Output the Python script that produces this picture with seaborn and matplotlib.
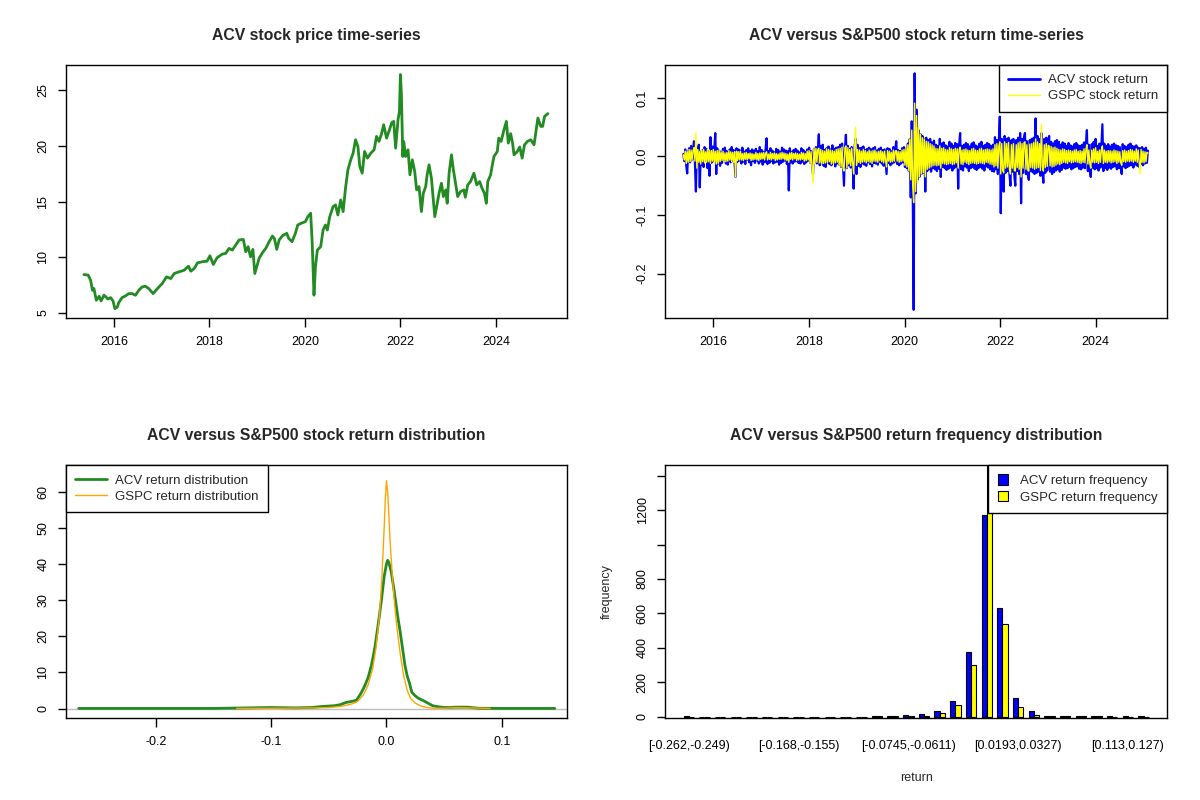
import numpy as np
import pandas as pd
import matplotlib
matplotlib.use("Agg")
import matplotlib.pyplot as plt
from matplotlib.lines import Line2D
import seaborn as sns

# ACV closing price (decimal year, price)
price_year = [2015.37, 2015.46, 2015.51, 2015.55, 2015.58, 2015.63, 2015.69, 2015.73, 2015.79, 2015.83,
              2015.87, 2015.93, 2015.98, 2016.02, 2016.07, 2016.10, 2016.17, 2016.24, 2016.31, 2016.38,
              2016.45, 2016.52, 2016.59, 2016.66, 2016.73, 2016.82, 2016.91, 2017.01, 2017.10, 2017.19,
              2017.26, 2017.36, 2017.47, 2017.56, 2017.61, 2017.68, 2017.75, 2017.85, 2017.95, 2018.01,
              2018.08, 2018.16, 2018.27, 2018.34, 2018.41, 2018.48, 2018.55, 2018.62, 2018.71, 2018.76,
              2018.81, 2018.86, 2018.91, 2018.95, 2018.99, 2019.04, 2019.11, 2019.18, 2019.25, 2019.32,
              2019.36, 2019.41, 2019.46, 2019.53, 2019.62, 2019.66, 2019.73, 2019.80, 2019.85, 2019.92,
              2020.01, 2020.06, 2020.12, 2020.15, 2020.19, 2020.22, 2020.26, 2020.33, 2020.38, 2020.43,
              2020.47, 2020.52, 2020.59, 2020.64, 2020.69, 2020.75, 2020.80, 2020.85, 2020.90, 2020.96,
              2021.01, 2021.06, 2021.11, 2021.15, 2021.20, 2021.25, 2021.31, 2021.38, 2021.45, 2021.50,
              2021.55, 2021.60, 2021.65, 2021.71, 2021.76, 2021.82, 2021.86, 2021.90, 2021.95, 2021.98,
              2022.00, 2022.02, 2022.05, 2022.07, 2022.11, 2022.16, 2022.20, 2022.25, 2022.30, 2022.34,
              2022.39, 2022.44, 2022.48, 2022.53, 2022.56, 2022.60, 2022.65, 2022.69, 2022.72, 2022.76,
              2022.81, 2022.86, 2022.90, 2022.95, 2022.98, 2023.02, 2023.07, 2023.11, 2023.16, 2023.20,
              2023.26, 2023.33, 2023.36, 2023.41, 2023.47, 2023.54, 2023.60, 2023.66, 2023.71, 2023.76,
              2023.80, 2023.83, 2023.89, 2023.92, 2023.96, 2024.03, 2024.06, 2024.11, 2024.17, 2024.22,
              2024.26, 2024.31, 2024.35, 2024.38, 2024.45, 2024.50, 2024.55, 2024.60, 2024.66, 2024.73,
              2024.80, 2024.83, 2024.88, 2024.94, 2024.98, 2025.02, 2025.09]
price_value = [8.45, 8.40, 7.94, 7.04, 7.20, 6.14, 6.50, 6.08, 6.60, 6.44,
               6.26, 6.38, 6.08, 5.39, 5.54, 5.93, 6.38, 6.53, 6.74, 6.74,
               6.59, 7.04, 7.34, 7.40, 7.19, 6.74, 7.19, 7.64, 8.24, 8.09,
               8.54, 8.69, 8.84, 9.20, 8.75, 8.99, 9.50, 9.60, 9.65, 10.14,
               9.35, 9.96, 10.29, 10.35, 10.80, 10.65, 11.10, 11.55, 11.60, 10.50,
               10.95, 10.05, 10.71, 8.54, 9.14, 9.90, 10.41, 10.80, 11.40, 11.91,
               11.70, 10.71, 11.55, 11.94, 12.15, 11.70, 11.40, 12.15, 12.90, 13.05,
               13.20, 13.65, 13.95, 11.55, 6.60, 9.14, 10.65, 10.95, 12.45, 12.90,
               12.45, 13.65, 14.55, 14.70, 13.80, 15.15, 14.10, 16.20, 17.85, 18.75,
               19.35, 20.55, 19.95, 18.15, 17.55, 19.50, 18.90, 19.35, 19.65, 20.85,
               20.40, 21.00, 21.90, 20.70, 21.30, 22.10, 22.20, 19.80, 22.35, 23.10,
               26.40, 24.76, 19.05, 20.40, 19.05, 19.65, 17.40, 18.75, 17.70, 16.05,
               16.35, 14.10, 15.75, 16.35, 17.40, 18.30, 17.10, 15.15, 13.65, 14.55,
               15.75, 16.65, 15.45, 16.05, 14.85, 17.55, 19.20, 17.85, 16.50, 15.45,
               15.90, 16.05, 15.39, 16.50, 16.80, 17.55, 16.50, 16.80, 16.20, 15.75,
               14.85, 16.80, 17.40, 18.15, 19.05, 19.50, 20.70, 20.40, 21.45, 22.20,
               20.25, 21.10, 20.25, 19.20, 19.50, 19.90, 18.90, 20.10, 20.40, 20.55,
               20.10, 21.00, 22.50, 21.75, 21.75, 22.65, 22.90]

# returns in per mille, sampled off the chart (evenly spaced, mid-2015 to early 2025)
ret_start, ret_end = 2015.37, 2025.09
acv_ret_pm = [
    4, -8, 12, -15, -29, 6, 14, -10, 18, -6, 9, 26, -12, -60, 15, -9, 20, -53, 8, -14,
    11, -18, 16, -7, 13, -20, 9, -33, 33, -11, 17, -8, 12, 40, -30, 14, -12, 10, -16, 8,
    -11, 13, -6, 15, -12, 9, -14, 7, 12, -10, 16, -8, 11, -13, -35, 14, -9, 12, -7, 10,
    -12, 15, -9, 8, -13, 11, -6, 14, -10, 9, -15, 12, -8, 10, -11, 13, -7, 9, -12, 16,
    -9, 11, -14, 8, -10, 12, 31, -13, 9, -11, 14, -8, 10, -12, 7, -10, 13, -9, 11, -14,
    8, -11, 15, -9, 12, -7, 10, -13, 9, -58, 14, -10, 8, -12, 11, -9, 13, -8, 10, -11,
    7, -12, 14, -9, 11, -13, 8, -10, 12, -7, 15, -11, 9, -14, -30, 13, -10, 16, -12, 11,
    38, -15, 18, -12, 20, -16, 11, -18, 14, -10, 17, -13, 12, -15, 19, -11, 13, -17, 15, -12,
    16, -14, 20, -18, 22, -16, -50, 14, 37, -20, 18, -15, 13, -19, 16, -12, -55, 17, 30, -30,
    20, -16, 14, -18, 15, -12, 17, -14, 11, -16, 13, -10, 15, -13, 12, -17, 14, -11, 16, -12,
    10, -14, 13, -9, 15, -12, 11, -16, 12, -10, -30, 14, -11, 13, -15, 9, -12, 16, -10, 12,
    26, -13, 11, -15, 9, -12, 14, -10, 16, -18, 13, -20, 22, -25, 30, -70, 60, -50, -262, 142,
    -63, 80, -40, 45, -35, 38, -30, 35, -28, 30, -60, 32, -25, 28, -22, 30, -26, 24, -20, 27,
    -22, 20, -25, 18, -21, 30, -35, 22, -18, 24, -20, 19, -23, 17, -21, 25, -19, 22, -24, 18,
    -20, 23, -17, 21, -55, 19, 40, -22, 18, -24, 20, -17, 23, -19, 21, -25, 17, -20, 22, -18,
    24, -21, 19, -23, 17, -20, 22, -18, 25, -21, 18, -24, 20, -17, 23, -19, 21, -22, 18, -25,
    20, -26, 33, -22, 28, -30, 25, 68, -97, 30, -35, -60, 35, -28, 30, -25, 32, -30, -50, 28,
    -26, 30, -32, -50, 28, -25, 32, -30, 40, -80, 30, -28, 33, 40, -30, 26, -32, -40, 28, -25,
    30, -27, 32, -30, 65, -28, 35, -26, 30, -33, 40, -25, -45, 30, -28, 32, -24, 28, 35, -26,
    25, -30, 22, -27, 26, -24, 28, -22, 25, -26, 20, -23, 24, -19, 22, -21, 18, -20, 23, -18,
    19, -22, 17, -20, 21, -18, 23, -17, 19, -21, 18, -22, 20, -19, 24, -20, 22, 45, -25, 20,
    -23, -35, 21, -19, 25, -22, 30, -20, 18, -24, 22, -19, 20, 55, -25, 22, -20, 18, -23, 21,
    -19, 17, -21, 20, -18, 22, -17, 19, -22, 18, -20, 16, -19, -30, 21, -17, 18, -20, 16, -18,
    20, -16, 22, -15, 18, -19, 17, -14, 19, -16, 15, -18, 14, -13, 16, -15, 13, -12, 15, -11,
    10]
gspc_ret_pm = [
    3, -6, 9, -12, 8, -10, 12, -9, 11, -7, 10, 15, -8, 40, -20, 12, -10, 9, -13, 11,
    -9, 12, -11, 8, -10, 13, -9, 11, -12, 10, -8, 12, -11, 9, -13, 10, -12, 11, -9, 8,
    -7, 9, -8, 6, -9, 7, -8, 10, -6, 8, -9, 7, -10, 8, -35, 9, -7, 8, -6, 9,
    -6, 5, -7, 6, -5, 7, -6, 5, -4, 6, -7, 5, -6, 4, -5, 7, -6, 5, -7, 6,
    -5, 6, -4, 7, -6, 5, 8, -6, 4, -5, 7, -6, 5, -4, 6, -7, 5, -6, 4, -5,
    6, -5, 7, -4, 6, -6, 5, -7, 4, -10, 6, -5, 7, -6, 5, -4, 6, -7, 5, -6,
    4, -6, 7, -5, 6, -8, 5, -7, 9, -6, 10, -12, 8, -20, -45, 15, -12, 14, -10, 12,
    14, -11, 12, -13, 10, -12, 9, -11, 13, -10, 12, -9, 11, -13, 10, -12, 9, -11, 12, -10,
    13, -15, 14, -18, 16, -20, -25, 15, 18, -20, 15, -13, 12, -16, 14, -12, -30, 15, 50, -15,
    12, -10, 11, -12, 9, -10, 12, -9, 10, -11, 8, -9, 11, -10, 9, -12, 10, -8, 11, -9,
    8, -10, 9, -7, 10, -9, 8, -11, 9, -7, -18, 10, -8, 9, -10, 7, -9, 11, -8, 9,
    10, -8, 9, -10, 8, -9, 11, -8, 12, -15, 14, -18, 20, -25, 30, -40, 45, -50, -79, 91,
    -60, 70, -45, 50, -35, 38, -30, 32, -28, 30, -35, 26, -22, 25, -20, 22, -18, 20, -16, 18,
    -15, 14, -16, 13, -15, 18, -20, 14, -12, 15, -13, 12, -14, 11, -13, 15, -12, 13, -14, 12,
    -13, 14, -11, 13, -20, 12, 16, -13, 11, -14, 12, -10, 13, -12, 11, -14, 10, -12, 13, -11,
    14, -12, 11, -13, 10, -12, 13, -11, 14, -12, 11, -13, 12, -10, 13, -11, 12, -13, 11, -14,
    13, -18, 20, -16, 22, -20, 18, 25, -30, 22, -24, -28, 25, -20, 22, -18, 24, -22, -30, 20,
    -20, 22, -24, -25, 20, -19, 23, -22, 25, -35, 22, -20, 24, 25, -22, 20, -24, -25, 21, -19,
    22, -20, 24, -22, 30, -20, 25, -19, 22, -24, 55, -18, -25, 20, -19, 22, -17, 19, 18, -16,
    17, -18, 15, -17, 16, -15, 14, -13, 12, -14, 11, -12, 13, -10, 12, -11, 10, -12, 11, -9,
    10, -11, 9, -10, 11, -9, 12, -10, 9, -11, 10, -12, 9, -10, 13, -11, 12, 20, -13, 11,
    -12, -20, 11, -10, 13, -11, 15, -10, 9, -12, 11, -10, 12, 18, -12, 11, -10, 9, -11, 10,
    -9, 10, -11, 9, -10, 11, -9, 10, -12, 9, -10, 8, -11, -15, 10, -9, 11, -10, 9, -8,
    10, -9, 12, -8, 11, -10, 9, -8, 13, -10, 11, -9, -30, 12, -10, 9, -11, 8, -9, 7,
    6]

# kernel density curves
acv_dens_x = [-0.267, -0.15, -0.10, -0.08, -0.065, -0.055, -0.045, -0.04, -0.035, -0.03,
              -0.026, -0.022, -0.019, -0.016, -0.013, -0.010, -0.008, -0.006, -0.004, -0.002,
              0.0, 0.001, 0.002, 0.004, 0.006, 0.008, 0.010, 0.012, 0.014, 0.016,
              0.018, 0.020, 0.022, 0.025, 0.028, 0.032, 0.036, 0.040, 0.045, 0.05,
              0.055, 0.06, 0.07, 0.08, 0.10, 0.146]
acv_dens_y = [0.05, 0.05, 0.3, 0.2, 0.3, 0.6, 0.8, 1.1, 1.7, 2.0,
              2.3, 4.3, 6.2, 8.5, 12.0, 17.0, 21.5, 26.0, 31.0, 36.5,
              40.0, 41.0, 40.5, 38.0, 34.0, 29.5, 25.0, 21.0, 16.5, 12.0,
              9.0, 7.0, 4.5, 3.5, 2.8, 2.2, 1.5, 0.8, 0.5, 0.3,
              0.3, 0.4, 0.4, 0.1, 0.05, 0.05]
gspc_dens_x = [-0.13, -0.09, -0.06, -0.05, -0.04, -0.035, -0.03, -0.025, -0.02, -0.016,
               -0.012, -0.009, -0.006, -0.004, -0.002, -0.001, 0.0, 0.001, 0.002, 0.003,
               0.005, 0.007, 0.009, 0.012, 0.015, 0.018, 0.021, 0.025, 0.03, 0.035,
               0.04, 0.05, 0.06, 0.09]
gspc_dens_y = [0.05, 0.1, 0.2, 0.3, 0.6, 0.9, 1.3, 2.0, 3.8, 6.5,
               11.0, 17.0, 26.0, 36.0, 50.0, 58.0, 63.0, 60.0, 54.0, 47.0,
               37.0, 29.0, 22.5, 15.0, 9.0, 5.0, 2.8, 1.5, 0.7, 0.3,
               0.1, 0.1, 0.3, 0.05]

# return frequency per bin (30 bins of width ~0.0134 from -0.262)
acv_freq = [1, 0, 0, 0, 0, 0, 0, 0, 0, 0, 0, 0, 5, 6, 8, 17, 31, 89, 375, 1173,
            631, 107, 33, 6, 5, 1, 4, 1, 1, 1]
gspc_freq = [0, 0, 0, 0, 0, 0, 0, 0, 0, 0, 0, 0, 1, 2, 2, 6, 19, 66, 299, 1560,
             538, 54, 8, 5, 4, 1, 1, 0, 0, 0]
bin_tick_pos = [0, 7, 14, 21, 28]
bin_tick_labels = ["[-0.262,-0.249)", "[-0.168,-0.155)", "[-0.0745,-0.0611)",
                   "[0.0193,0.0327)", "[0.113,0.127)"]

sns.set_theme(style="ticks")
plt.rcParams['font.family'] = ['Liberation Sans', 'DejaVu Sans']
plt.rcParams.update({
    'axes.edgecolor': 'black', 'axes.linewidth': 1.0,
    'xtick.color': 'black', 'ytick.color': 'black',
    'xtick.labelsize': 9, 'ytick.labelsize': 9,
    'xtick.major.size': 6.5, 'ytick.major.size': 6.0,
    'xtick.major.width': 1.0, 'ytick.major.width': 1.0,
    'xtick.major.pad': 6.5, 'ytick.major.pad': 6.0,
    'legend.fontsize': 9.5,
})

GREEN = '#228B22'


def style_axes(ax, title):
    for s in ax.spines.values():
        s.set_visible(True)
        s.set_color('black')
    ax.set_title(title, fontweight='bold', fontsize=11.3, pad=18)
    ax.set_xlabel('')
    ax.set_ylabel('')
    ax.tick_params(axis='y', labelrotation=90)
    for t in ax.get_yticklabels():
        t.set_va('center')


def r_legend(ax, handles, labels, loc, boxes=False):
    kw = dict(handlelength=0.8, handleheight=0.8, handletextpad=0.9) if boxes \
        else dict(handlelength=2.4, handletextpad=0.6)
    leg = ax.legend(handles, labels, loc=loc, borderaxespad=0, fancybox=False,
                    edgecolor='black', framealpha=1, borderpad=0.7,
                    labelspacing=0.3, **kw)
    leg.get_frame().set_linewidth(1.0)
    return leg


fig = plt.figure(figsize=(12, 8), dpi=100)
ax1 = fig.add_axes([0.055, 0.6025, 0.4175, 0.3165])
ax2 = fig.add_axes([0.5545, 0.6025, 0.418, 0.3165])
ax3 = fig.add_axes([0.055, 0.1025, 0.4175, 0.316])
ax4 = fig.add_axes([0.5545, 0.1025, 0.418, 0.316])

# price time-series
sns.lineplot(x=price_year, y=price_value, color=GREEN, linewidth=2, ax=ax1)
ax1.set_xlim(2014.995, 2025.49)
ax1.set_ylim(4.55, 27.28)
ax1.set_xticks([2016, 2018, 2020, 2022, 2024])
ax1.set_yticks([5, 10, 15, 20, 25])
style_axes(ax1, 'ACV stock price time-series')

# return time-series
acv_ret = np.array(acv_ret_pm) / 1000
gspc_ret = np.array(gspc_ret_pm) / 1000
acv_year = np.linspace(ret_start, ret_end, len(acv_ret))
gspc_year = np.linspace(ret_start, ret_end, len(gspc_ret))
sns.lineplot(x=acv_year, y=acv_ret, color='blue', linewidth=1.6, ax=ax2)
sns.lineplot(x=gspc_year, y=gspc_ret, color='yellow', linewidth=1, ax=ax2)
ax2.set_xlim(2014.995, 2025.49)
ax2.set_ylim(-0.276, 0.1566)
ax2.set_xticks([2016, 2018, 2020, 2022, 2024])
ax2.set_yticks([-0.2, -0.1, 0.0, 0.1])
ax2.set_yticklabels(['-0.2', '-0.1', '0.0', '0.1'])
style_axes(ax2, 'ACV versus S&P500 stock return time-series')
r_legend(ax2, [Line2D([], [], color='blue', lw=2), Line2D([], [], color='yellow', lw=1)],
         ['ACV stock return', 'GSPC stock return'], 'upper right')

# return distribution
ax3.axhline(0, color='#BEBEBE', linewidth=1)
sns.lineplot(x=acv_dens_x, y=acv_dens_y, color=GREEN, linewidth=2, ax=ax3)
sns.lineplot(x=gspc_dens_x, y=gspc_dens_y, color='orange', linewidth=1, ax=ax3)
ax3.set_xlim(-0.278, 0.1566)
ax3.set_ylim(-2.6, 67.3)
ax3.set_xticks([-0.2, -0.1, 0.0, 0.1])
ax3.set_xticklabels(['-0.2', '-0.1', '0.0', '0.1'])
ax3.set_yticks([0, 10, 20, 30, 40, 50, 60])
style_axes(ax3, 'ACV versus S&P500 stock return distribution')
r_legend(ax3, [Line2D([], [], color=GREEN, lw=2), Line2D([], [], color='orange', lw=1)],
         ['ACV return distribution', 'GSPC return distribution'], 'upper left')

# return frequency bars
n_bins = len(acv_freq)
freq_df = pd.DataFrame({
    'bin': list(range(n_bins)) * 2,
    'count': acv_freq + gspc_freq,
    'series': ['ACV'] * n_bins + ['GSPC'] * n_bins,
})
sns.barplot(data=freq_df, x='bin', y='count', hue='series',
            palette={'ACV': 'blue', 'GSPC': 'yellow'}, width=2 / 3,
            edgecolor='black', linewidth=0.8, saturation=1, ax=ax4)
ax4.set_xlim(-1.49, n_bins - 1 + 1.49)
ax4.set_ylim(-8, 1462)
ax4.set_xticks(bin_tick_pos)
ax4.set_xticklabels(bin_tick_labels)
ax4.tick_params(axis='x', length=0, pad=16)
ax4.set_yticks([0, 200, 400, 600, 800, 1000, 1200, 1400])
ax4.set_yticklabels(['0', '200', '400', '600', '800', '', '1200', ''])
style_axes(ax4, 'ACV versus S&P500 return frequency distribution')
ax4.set_xlabel('return', fontsize=9, labelpad=14)
ax4.set_ylabel('frequency', fontsize=9, labelpad=17)
h, l = ax4.get_legend_handles_labels()
r_legend(ax4, h, ['ACV return frequency', 'GSPC return frequency'], 'upper right', boxes=True)
for leg_patch in ax4.get_legend().get_patches():
    leg_patch.set_edgecolor('black')

fig.savefig('out.png', dpi=100)
